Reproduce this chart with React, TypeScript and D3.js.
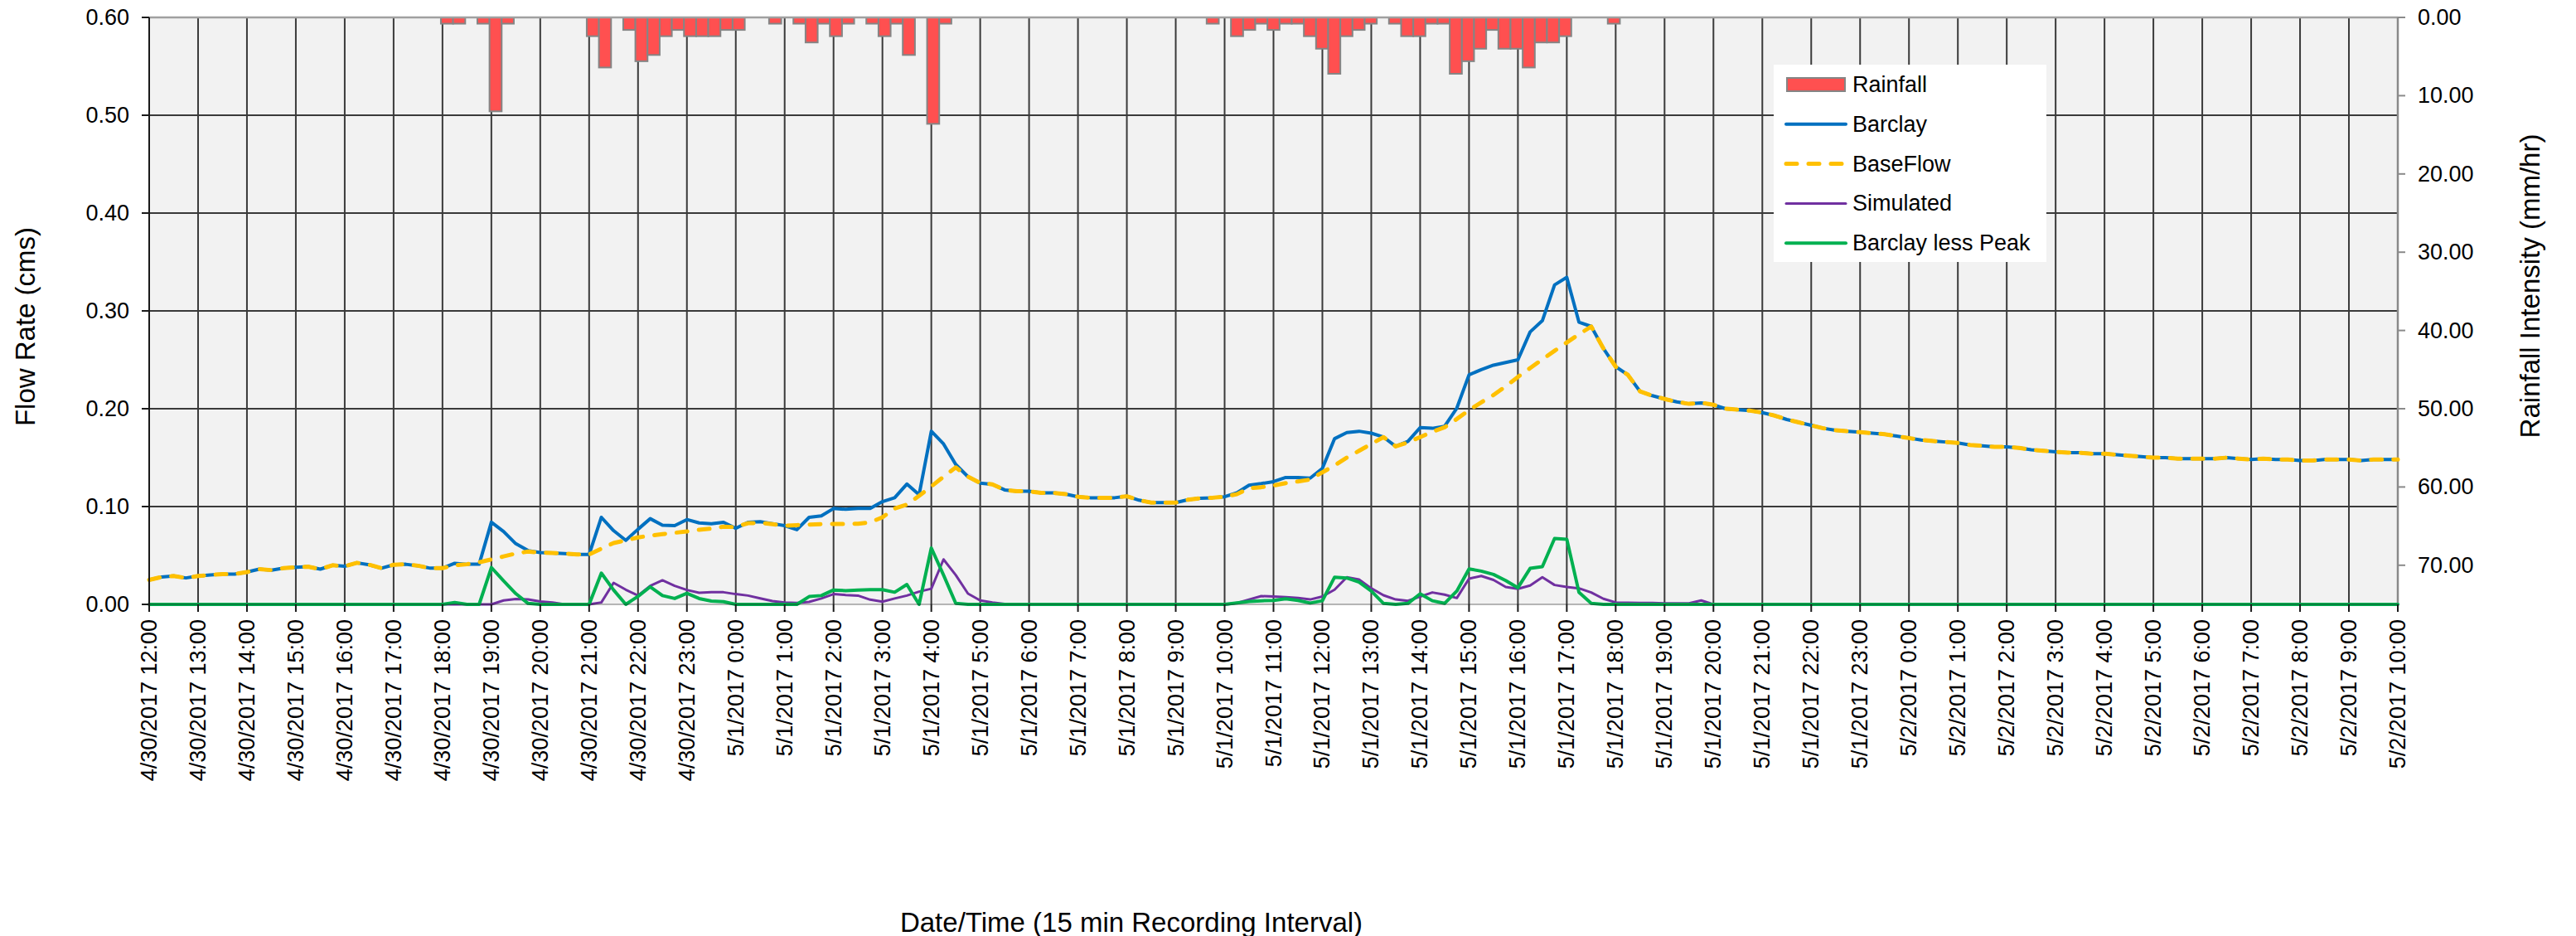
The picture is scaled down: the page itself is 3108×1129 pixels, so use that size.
import React from 'react';
import * as d3 from 'd3';

const W = 3108;
const H = 1129;
const PL = 180;
const PR = 2893;
const PT = 21;
const PB = 729;

const timeLabels = [
  '4/30/2017 12:00', '4/30/2017 13:00', '4/30/2017 14:00', '4/30/2017 15:00', '4/30/2017 16:00', '4/30/2017 17:00',
  '4/30/2017 18:00', '4/30/2017 19:00', '4/30/2017 20:00', '4/30/2017 21:00', '4/30/2017 22:00', '4/30/2017 23:00',
  '5/1/2017 0:00', '5/1/2017 1:00', '5/1/2017 2:00', '5/1/2017 3:00', '5/1/2017 4:00', '5/1/2017 5:00',
  '5/1/2017 6:00', '5/1/2017 7:00', '5/1/2017 8:00', '5/1/2017 9:00', '5/1/2017 10:00', '5/1/2017 11:00',
  '5/1/2017 12:00', '5/1/2017 13:00', '5/1/2017 14:00', '5/1/2017 15:00', '5/1/2017 16:00', '5/1/2017 17:00',
  '5/1/2017 18:00', '5/1/2017 19:00', '5/1/2017 20:00', '5/1/2017 21:00', '5/1/2017 22:00', '5/1/2017 23:00',
  '5/2/2017 0:00', '5/2/2017 1:00', '5/2/2017 2:00', '5/2/2017 3:00', '5/2/2017 4:00', '5/2/2017 5:00',
  '5/2/2017 6:00', '5/2/2017 7:00', '5/2/2017 8:00', '5/2/2017 9:00', '5/2/2017 10:00',
];

const flowTicks = [0, 0.1, 0.2, 0.3, 0.4, 0.5, 0.6];
const rainTicks = [0, 10, 20, 30, 40, 50, 60, 70];

const barclay = [
  0.025, 0.028, 0.029, 0.027, 0.029, 0.030, 0.031, 0.031, 0.033, 0.036,
  0.035, 0.037, 0.038, 0.0385, 0.036, 0.040, 0.039, 0.0425, 0.0405, 0.037,
  0.0405, 0.041, 0.0395, 0.037, 0.037, 0.042, 0.041, 0.041, 0.084, 0.0745,
  0.062, 0.055, 0.053, 0.0525, 0.052, 0.051, 0.051, 0.089, 0.0754, 0.0655,
  0.0768, 0.0876, 0.081, 0.0805, 0.0867, 0.0833, 0.0825, 0.0839, 0.0777, 0.0839,
  0.0845, 0.0825, 0.0805, 0.0763, 0.089, 0.0904, 0.098, 0.0972, 0.098, 0.098,
  0.105, 0.109, 0.123, 0.112, 0.177, 0.164, 0.143, 0.1305, 0.124, 0.1227,
  0.117, 0.1156, 0.1156, 0.114, 0.114, 0.1127, 0.110, 0.109, 0.109, 0.109,
  0.1105, 0.1065, 0.104, 0.104, 0.104, 0.107, 0.1085, 0.109, 0.110, 0.114,
  0.1218, 0.1235, 0.1255, 0.1297, 0.1297, 0.129, 0.139, 0.1694, 0.1756, 0.177,
  0.175, 0.171, 0.1615, 0.1666, 0.1807, 0.180, 0.182, 0.2006, 0.2346, 0.240,
  0.2445, 0.2473, 0.250, 0.2785, 0.290, 0.3266, 0.3343, 0.2884, 0.2841, 0.2615,
  0.243, 0.2346, 0.2176, 0.2133, 0.210, 0.207, 0.205, 0.206, 0.204, 0.200,
  0.199, 0.198, 0.196, 0.193, 0.189, 0.186, 0.183, 0.180, 0.178, 0.177,
  0.176, 0.175, 0.174, 0.172, 0.170, 0.168, 0.167, 0.166, 0.165, 0.163,
  0.162, 0.161, 0.161, 0.160, 0.158, 0.157, 0.156, 0.155, 0.155, 0.154,
  0.154, 0.153, 0.152, 0.151, 0.150, 0.150, 0.149, 0.149, 0.149, 0.149,
  0.150, 0.149, 0.148, 0.149, 0.148, 0.148, 0.147, 0.147, 0.148, 0.148,
  0.148, 0.147, 0.148, 0.148, 0.148,
];

const baseFlow = [
  0.025, 0.028, 0.029, 0.027, 0.029, 0.030, 0.031, 0.031, 0.033, 0.036,
  0.035, 0.037, 0.038, 0.0385, 0.036, 0.040, 0.039, 0.0425, 0.0405, 0.037,
  0.0405, 0.041, 0.0395, 0.037, 0.037, 0.040, 0.041, 0.043, 0.046, 0.049,
  0.052, 0.054, 0.053, 0.0525, 0.052, 0.051, 0.051, 0.057, 0.0627, 0.0655,
  0.0684, 0.0703, 0.0718, 0.0732, 0.0746, 0.0763, 0.0774, 0.0794, 0.079, 0.083,
  0.0833, 0.082, 0.0805, 0.081, 0.0816, 0.082, 0.0822, 0.0822, 0.0825, 0.0839,
  0.089, 0.098, 0.102, 0.111, 0.1206, 0.1305, 0.140, 0.1305, 0.124, 0.1227,
  0.117, 0.1156, 0.1156, 0.114, 0.114, 0.1127, 0.110, 0.109, 0.109, 0.109,
  0.1105, 0.1065, 0.104, 0.104, 0.104, 0.107, 0.1085, 0.109, 0.110, 0.1126,
  0.1188, 0.1198, 0.1215, 0.124, 0.1257, 0.1276, 0.135, 0.142, 0.150, 0.157,
  0.164, 0.171, 0.1615, 0.1656, 0.171, 0.1765, 0.181, 0.1895, 0.1985, 0.2065,
  0.214, 0.2229, 0.2325, 0.2415, 0.2505, 0.2592, 0.2677, 0.2762, 0.284, 0.2615,
  0.243, 0.2346, 0.2176, 0.2133, 0.210, 0.207, 0.205, 0.206, 0.204, 0.200,
  0.199, 0.198, 0.196, 0.193, 0.189, 0.186, 0.183, 0.180, 0.178, 0.177,
  0.176, 0.175, 0.174, 0.172, 0.170, 0.168, 0.167, 0.166, 0.165, 0.163,
  0.162, 0.161, 0.161, 0.160, 0.158, 0.157, 0.156, 0.155, 0.155, 0.154,
  0.154, 0.153, 0.152, 0.151, 0.150, 0.150, 0.149, 0.149, 0.149, 0.149,
  0.150, 0.149, 0.148, 0.149, 0.148, 0.148, 0.147, 0.147, 0.148, 0.148,
  0.148, 0.147, 0.148, 0.148, 0.148,
];

const simulated = [
  0, 0, 0, 0, 0, 0, 0, 0, 0, 0,
  0, 0, 0, 0, 0, 0, 0, 0, 0, 0,
  0, 0, 0, 0, 0, 0, 0, 0, 0, 0.004,
  0.0055, 0.005, 0.003, 0.002, 0, 0, 0, 0.002, 0.022, 0.015,
  0.009, 0.019, 0.0246, 0.019, 0.0147, 0.0119, 0.0124, 0.0124, 0.0105, 0.009,
  0.0062, 0.0034, 0.002, 0.0014, 0.0025, 0.006, 0.0105, 0.0096, 0.009, 0.0048,
  0.0028, 0.006, 0.009, 0.013, 0.016, 0.046, 0.03, 0.011, 0.004, 0.002,
  0.0005, 0, 0, 0, 0, 0, 0, 0, 0, 0,
  0, 0, 0, 0, 0, 0, 0, 0, -0.0005, 0.0014,
  0.005, 0.0085, 0.008, 0.0074, 0.0065, 0.005, 0.008, 0.015, 0.0278, 0.0255,
  0.0164, 0.0093, 0.005, 0.0037, 0.008, 0.0122, 0.010, 0.0065, 0.0263, 0.029,
  0.025, 0.0178, 0.0159, 0.0193, 0.0278, 0.0198, 0.0178, 0.0164, 0.0122, 0.0057,
  0.002, 0.0017, 0.0014, 0.0014, 0.001, 0.001, 0.001, 0.004, 0, 0,
  0, 0, 0, 0, 0, 0, 0, 0, 0, 0,
  0, 0, 0, 0, 0, 0, 0, 0, 0, 0,
  0, 0, 0, 0, 0, 0, 0, 0, 0, 0,
  0, 0, 0, 0, 0, 0, 0, 0, 0, 0,
  0, 0, 0, 0, 0, 0, 0, 0, 0, 0,
  0, 0, 0, 0, 0,
];

const barclayLessPeak = [
  0, 0, 0, 0, 0, 0, 0, 0, 0, 0,
  0, 0, 0, 0, 0, 0, 0, 0, 0, 0,
  0, 0, 0, 0, 0, 0.002, 0, 0, 0.0377, 0.024,
  0.011, 0.001, 0, 0, 0, 0, 0, 0.032, 0.0147, 0,
  0.0082, 0.018, 0.009, 0.006, 0.0113, 0.006, 0.0034, 0.0028, 0, 0,
  0, 0, 0, 0, 0.008, 0.009, 0.0147, 0.014, 0.0147, 0.015,
  0.015, 0.0124, 0.0203, 0, 0.0576, 0.03, 0.001, 0, 0, 0,
  0, 0, 0, 0, 0, 0, 0, 0, 0, 0,
  0, 0, 0, 0, 0, 0, 0, 0, 0, 0.0014,
  0.003, 0.0037, 0.004, 0.0057, 0.004, 0.0014, 0.0037, 0.0278, 0.027, 0.0227,
  0.0136, 0.001, 0, 0.001, 0.0108, 0.0037, 0.001, 0.0136, 0.0363, 0.034,
  0.0306, 0.0244, 0.017, 0.0368, 0.0385, 0.0674, 0.0666, 0.0122, 0.001, 0,
  0, 0, 0, 0, 0, 0, 0, 0, 0, 0,
  0, 0, 0, 0, 0, 0, 0, 0, 0, 0,
  0, 0, 0, 0, 0, 0, 0, 0, 0, 0,
  0, 0, 0, 0, 0, 0, 0, 0, 0, 0,
  0, 0, 0, 0, 0, 0, 0, 0, 0, 0,
  0, 0, 0, 0, 0, 0, 0, 0, 0, 0,
  0, 0, 0, 0, 0,
];

const rainfall = [
  0, 0, 0, 0, 0, 0, 0, 0, 0, 0,
  0, 0, 0, 0, 0, 0, 0, 0, 0, 0,
  0, 0, 0, 0, 0.8, 0.8, 0, 0.8, 12.0, 0.8,
  0, 0, 0, 0, 0, 0, 2.4, 6.4, 0, 1.6,
  5.6, 4.8, 2.4, 1.6, 2.4, 2.4, 2.4, 1.6, 1.6, 0,
  0, 0.8, 0, 0.8, 3.2, 0.8, 2.4, 0.8, 0, 0.8,
  2.4, 0.8, 4.8, 0, 13.6, 0.8, 0, 0, 0, 0,
  0, 0, 0, 0, 0, 0, 0, 0, 0, 0,
  0, 0, 0, 0, 0, 0, 0, 0.8, 0, 2.4,
  1.6, 0.8, 1.6, 0.8, 0.8, 2.4, 4.0, 7.2, 2.4, 1.6,
  0.8, 0, 0.8, 2.4, 2.4, 0.8, 0.8, 7.2, 5.6, 4.0,
  1.6, 4.0, 4.0, 6.4, 3.2, 3.2, 2.4, 0, 0, 0,
  0.8, 0, 0, 0, 0, 0, 0, 0, 0, 0,
  0, 0, 0, 0, 0, 0, 0, 0, 0, 0,
  0, 0, 0, 0, 0, 0, 0, 0, 0, 0,
  0, 0, 0, 0, 0, 0, 0, 0, 0, 0,
  0, 0, 0, 0, 0, 0, 0, 0, 0, 0,
  0, 0, 0, 0, 0, 0, 0, 0, 0, 0,
  0, 0, 0, 0, 0,
];

const legendItems = ['Rainfall', 'Barclay', 'BaseFlow', 'Simulated', 'Barclay less Peak'];

const FONT = "'Liberation Sans', Arial, Helvetica, sans-serif";
const C_BLUE = '#0070C0';
const C_YELLOW = '#FFC000';
const C_PURPLE = '#7030A0';
const C_GREEN = '#00B050';
const C_RED = '#FF5050';
const C_BAR_EDGE = '#858585';
const C_GRID = '#3a3a3a';

export default function App() {
  React.useEffect(() => {
    document.body.style.margin = '0';
  }, []);

  const n = barclay.length;
  const x = d3.scaleLinear().domain([0, n - 1]).range([PL, PR]);
  const xh = d3.scaleLinear().domain([0, timeLabels.length - 1]).range([PL, PR]);
  const xb = d3.scaleBand<number>().domain(d3.range(rainfall.length)).range([PL, PR]).padding(0);
  const y = d3.scaleLinear().domain([0, 0.6]).range([PB, PT]);
  const yr = d3.scaleLinear().domain([0, 75]).range([PT, PB]);
  const mk = d3.line<number>().x((_, i) => x(i)).y((d) => y(d));

  const fs = 27;
  const tfs = 33;
  const legX = 2140;
  const legY = 78;
  const legRow = 47.8;

  return (
    <svg width={W} height={H} style={{ display: 'block', position: 'absolute', left: 0, top: 0 }} fontFamily={FONT}>
      <rect x={0} y={0} width={W} height={H} fill="#ffffff" />
      <rect x={PL} y={PT} width={PR - PL} height={PB - PT} fill="#F2F2F2" />

      {timeLabels.map((_, h) =>
        h > 0 && h < timeLabels.length - 1 ? (
          <line key={'vg' + h} x1={xh(h)} x2={xh(h)} y1={PT} y2={PB} stroke={C_GRID} strokeWidth={2} />
        ) : null
      )}
      {flowTicks.map((t) =>
        t > 0 && t < 0.6 ? (
          <line key={'hg' + t} x1={PL} x2={PR} y1={y(t)} y2={y(t)} stroke={C_GRID} strokeWidth={2} />
        ) : null
      )}

      {rainfall.map((r, k) =>
        r > 0 ? (
          <rect
            key={'rb' + k}
            x={xb(k)}
            y={yr(0)}
            width={xb.bandwidth()}
            height={yr(r) - yr(0)}
            fill={C_RED}
            stroke={C_BAR_EDGE}
            strokeWidth={2}
          />
        ) : null
      )}

      <line x1={PL} x2={PR} y1={PT} y2={PT} stroke="#a0a0a0" strokeWidth={2.5} />
      <line x1={PR} x2={PR} y1={PT} y2={PB} stroke="#8a8a8a" strokeWidth={2.5} />

      <path d={mk(barclay) || ''} fill="none" stroke={C_BLUE} strokeWidth={4} strokeLinejoin="round" strokeLinecap="round" />
      <path
        d={mk(baseFlow) || ''}
        fill="none"
        stroke={C_YELLOW}
        strokeWidth={5}
        strokeDasharray="13 14"
        strokeLinejoin="round"
        strokeLinecap="round"
      />
      <path d={mk(simulated) || ''} fill="none" stroke={C_PURPLE} strokeWidth={3} strokeLinejoin="round" strokeLinecap="round" />
      <path d={mk(barclayLessPeak) || ''} fill="none" stroke={C_GREEN} strokeWidth={4} strokeLinejoin="round" strokeLinecap="round" />

      <line x1={PL} x2={PL} y1={PT} y2={PB + 8} stroke="#1a1a1a" strokeWidth={2} />
      {flowTicks.map((t) => (
        <g key={'lt' + t}>
          <line x1={PL - 9} x2={PL} y1={y(t)} y2={y(t)} stroke="#1a1a1a" strokeWidth={2} />
          <text x={PL - 24} y={y(t)} textAnchor="end" dominantBaseline="central" fontSize={fs} fill="#000">
            {t.toFixed(2)}
          </text>
        </g>
      ))}

      {rainTicks.map((t) => (
        <g key={'rt' + t}>
          <line x1={PR} x2={PR + 9} y1={yr(t)} y2={yr(t)} stroke="#8a8a8a" strokeWidth={2} />
          <text x={PR + 24} y={yr(t)} textAnchor="start" dominantBaseline="central" fontSize={fs} fill="#000">
            {t.toFixed(2)}
          </text>
        </g>
      ))}

      <line x1={PL} x2={PR} y1={PB} y2={PB} stroke="#1a1a1a" strokeWidth={1.5} opacity={0.4} />
      {timeLabels.map((lab, h) => (
        <g key={'xt' + h}>
          <line x1={xh(h)} x2={xh(h)} y1={PB} y2={PB + 9} stroke="#1a1a1a" strokeWidth={2} />
          <text
            transform={`translate(${xh(h)},${PB + 18}) rotate(-90)`}
            textAnchor="end"
            dominantBaseline="central"
            fontSize={fs}
            fill="#000"
          >
            {lab}
          </text>
        </g>
      ))}

      <rect x={legX} y={legY} width={329} height={238} fill="#ffffff" />
      {legendItems.map((name, i) => {
        const cy = legY + 24 + i * legRow;
        let sym: React.ReactNode = null;
        if (i === 0) {
          sym = <rect x={legX + 16} y={cy - 8} width={70} height={16} fill={C_RED} stroke={C_BAR_EDGE} strokeWidth={2} />;
        } else if (i === 1) {
          sym = <line x1={legX + 15} x2={legX + 87} y1={cy} y2={cy} stroke={C_BLUE} strokeWidth={4} strokeLinecap="round" />;
        } else if (i === 2) {
          sym = (
            <line
              x1={legX + 15}
              x2={legX + 87}
              y1={cy}
              y2={cy}
              stroke={C_YELLOW}
              strokeWidth={5}
              strokeDasharray="13 14"
              strokeLinecap="round"
            />
          );
        } else if (i === 3) {
          sym = <line x1={legX + 15} x2={legX + 87} y1={cy} y2={cy} stroke={C_PURPLE} strokeWidth={3} strokeLinecap="round" />;
        } else {
          sym = <line x1={legX + 15} x2={legX + 87} y1={cy} y2={cy} stroke={C_GREEN} strokeWidth={4} strokeLinecap="round" />;
        }
        return (
          <g key={'lg' + i}>
            {sym}
            <text x={legX + 95} y={cy} dominantBaseline="central" fontSize={fs} fill="#000">
              {name}
            </text>
          </g>
        );
      })}

      <text transform="translate(30,394) rotate(-90)" textAnchor="middle" dominantBaseline="central" fontSize={tfs} fill="#000">
        Flow Rate (cms)
      </text>
      <text transform="translate(3052,345) rotate(-90)" textAnchor="middle" dominantBaseline="central" fontSize={tfs} fill="#000">
        Rainfall Intensity (mm/hr)
      </text>
      <text x={1365} y={1112} textAnchor="middle" dominantBaseline="central" fontSize={tfs} fill="#000">
        Date/Time (15 min Recording Interval)
      </text>
    </svg>
  );
}
